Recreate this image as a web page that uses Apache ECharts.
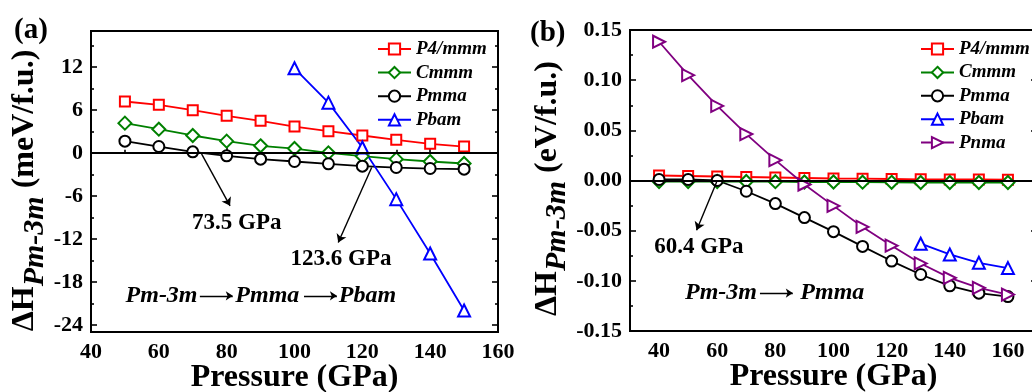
<!DOCTYPE html>
<html>
<head>
<meta charset="utf-8">
<script src="https://cdn.jsdelivr.net/npm/echarts@6/dist/echarts.min.js"></script>
<style>html,body{margin:0;padding:0;background:#fff}#c{width:1032px;height:392px}</style>
</head>
<body>
<div id="c"></div>
<script>
// ---------- Panel (a) data (meV/f.u.) ----------
const aX = [50, 60, 70, 80, 90, 100, 110, 120, 130, 140, 150];
const aP4mmm = [7.16, 6.70, 5.95, 5.16, 4.47, 3.67, 3.02, 2.42, 1.81, 1.26, 0.88];
const aCmmm = [4.14, 3.30, 2.42, 1.63, 0.98, 0.60, 0.00, -0.47, -0.88, -1.21, -1.49];
const aPmma = [1.63, 0.88, 0.14, -0.42, -0.88, -1.21, -1.53, -1.86, -2.05, -2.19, -2.28];
const aPbamX = [100, 110, 120, 130, 140, 150];
const aPbam = [11.8, 7.0, 0.74, -6.46, -14.05, -22.0];
const aYLabels = [-24, -18, -12, -6, 0, 6, 12];
const aYMinor = [-21, -15, -9, -3, 3, 9, 15];

// ---------- Panel (b) data (eV/f.u.) ----------
const bX = [40, 50, 60, 70, 80, 90, 100, 110, 120, 130, 140, 150, 160];
const bP4mmm = [0.005, 0.0045, 0.004, 0.0035, 0.003, 0.0025, 0.002, 0.0018, 0.0015, 0.0012, 0.001, 0.001, 0.0008];
const bCmmm = [-0.001, -0.001, -0.001, -0.001, -0.0012, -0.0015, -0.0015, -0.0017, -0.0018, -0.002, -0.002, -0.002, -0.002];
const bPmma = [0.001, 0.001, 0.0, -0.0107, -0.023, -0.037, -0.051, -0.0657, -0.0803, -0.0937, -0.105, -0.1123, -0.1157];
const bPbamX = [130, 140, 150, 160];
const bPbam = [-0.063, -0.0737, -0.082, -0.0873];
const bPnma = [0.1383, 0.105, 0.0743, 0.0463, 0.0203, -0.004, -0.0253, -0.0463, -0.065, -0.0827, -0.097, -0.107, -0.1137];
const bXLabels = [40, 60, 80, 100, 120, 140, 160];
const bXMinor = [50, 70, 90, 110, 130, 150];
const bYLabels = [-0.15, -0.10, -0.05, 0, 0.05, 0.10, 0.15];
const bYMinor = [-0.125, -0.075, -0.025, 0.025, 0.075, 0.125];

const names = ['P4/mmm', 'Cmmm', 'Pmma', 'Pbam', 'Pnma'];
const FONT = 'Liberation Serif';

const pairs = (xs, ys) => xs.map((x, i) => [x, ys[i]]);

const styles = {
  'P4/mmm': { color: '#ff0000', symbol: 'emptyRect', size: 10, rot: 0 },
  'Cmmm': { color: '#008000', symbol: 'emptyDiamond', size: 13, rot: 0 },
  'Pmma': { color: '#000000', symbol: 'emptyCircle', size: 11, rot: 0 },
  'Pbam': { color: '#0000ff', symbol: 'emptyTriangle', size: 12, rot: 0 },
  'Pnma': { color: '#800080', symbol: 'emptyTriangle', size: 12, rot: -90 }
};

function mkSeries(name, data, xi, yi) {
  const s = styles[name];
  return {
    type: 'line', name: name, data: data, xAxisIndex: xi, yAxisIndex: yi, z: 3,
    symbol: s.symbol, symbolSize: s.size, symbolRotate: s.rot,
    itemStyle: { color: s.color, borderWidth: 1.6 },
    lineStyle: { color: s.color, width: 1.8 },
    showSymbol: true
  };
}

const tickStyle = { color: '#000', width: 1.6 };
const labelStyle = { color: '#000', fontFamily: FONT, fontWeight: 'bold', fontSize: 22 };

function yAxes(grid, min, max, labels, minor, fmt, name, gap, shift) {
  return [
    { type: 'value', gridIndex: grid, position: 'left', min: min, max: max,
      axisLine: { show: true, lineStyle: { color: '#000', width: 2 } },
      axisTick: { show: true, inside: true, length: 6, lineStyle: tickStyle, customValues: labels },
      axisLabel: { show: true, margin: 8, customValues: labels, formatter: fmt, ...labelStyle },
      splitLine: { show: false },
      name: name, nameLocation: 'middle', nameGap: gap, nameRotate: 90,
      nameTextStyle: {
        padding: [0, shift, 0, 0],
        rich: {
          d: { fontFamily: FONT, fontWeight: 'bold', fontSize: 32, color: '#000' },
          s: { fontFamily: FONT, fontWeight: 'bold', fontStyle: 'italic', fontSize: 30, color: '#000', padding: [20, 0, 0, 0] }
        }
      }
    },
    { type: 'value', gridIndex: grid, position: 'left', min: min, max: max,
      axisLine: { show: false }, axisLabel: { show: false }, splitLine: { show: false },
      axisTick: { show: true, inside: true, length: 3, lineStyle: tickStyle, customValues: minor } },
    { type: 'value', gridIndex: grid, position: 'right', min: min, max: max,
      axisLine: { show: true, lineStyle: { color: '#000', width: 2 } }, axisLabel: { show: false }, splitLine: { show: false },
      axisTick: { show: true, inside: true, length: 6, lineStyle: tickStyle, customValues: labels } },
    { type: 'value', gridIndex: grid, position: 'right', min: min, max: max,
      axisLine: { show: false }, axisLabel: { show: false }, splitLine: { show: false },
      axisTick: { show: true, inside: true, length: 3, lineStyle: tickStyle, customValues: minor } }
  ];
}

const xName = 'Pressure (GPa)';
const xNameStyle = { fontFamily: FONT, fontWeight: 'bold', fontSize: 32, color: '#000' };

const txt = (name, coord, italic) => ({
  name: name, coord: coord, symbol: 'circle', symbolSize: 0,
  label: { show: true, position: 'inside', formatter: '{b}', color: '#000', fontFamily: FONT,
    fontWeight: 'bold', fontStyle: italic ? 'italic' : 'normal', fontSize: italic ? 24 : 23 }
});
const arrow = (p0, p1, size) => [
  { coord: p0, symbol: 'none' },
  { coord: p1, symbol: 'arrow', symbolSize: size, lineStyle: { width: 1.4, color: '#000' } }
];

const option = {
  animation: false,
  backgroundColor: '#fff',
  textStyle: { fontFamily: FONT },
  title: [
    { text: '(a)', left: 9, top: 11, textStyle: { fontFamily: FONT, fontWeight: 'bold', fontSize: 29, color: '#000' } },
    { text: '(b)', left: 525, top: 14, textStyle: { fontFamily: FONT, fontWeight: 'bold', fontSize: 29, color: '#000' } }
  ],
  grid: [
    { left: 91, top: 31, width: 407, height: 301, show: true, borderColor: '#000', borderWidth: 2,
      backgroundColor: 'transparent', outerBoundsMode: 'none', containLabel: false },
    { left: 630, top: 30, width: 407, height: 301, show: true, borderColor: '#000', borderWidth: 2,
      backgroundColor: 'transparent', outerBoundsMode: 'none', containLabel: false }
  ],
  legend: [
    { data: names.slice(0, 4), orient: 'vertical', left: 377, top: 39, itemWidth: 33, itemHeight: 14, itemGap: 3.6,
      padding: 0, textStyle: { fontFamily: FONT, fontWeight: 'bold', fontStyle: 'italic', fontSize: 19, color: '#000', lineHeight: 20 } },
    { data: names, orient: 'vertical', left: 920, top: 39, itemWidth: 33, itemHeight: 14, itemGap: 3.4,
      padding: 0, textStyle: { fontFamily: FONT, fontWeight: 'bold', fontStyle: 'italic', fontSize: 19, color: '#000', lineHeight: 20 } }
  ],
  xAxis: [
    { type: 'value', gridIndex: 0, position: 'bottom', min: 40, max: 160, interval: 20,
      axisLine: { show: true, lineStyle: { color: '#000', width: 2 } },
      axisTick: { show: true, inside: true, length: 6, lineStyle: tickStyle },
      minorTick: { show: true, splitNumber: 2, length: 3, lineStyle: tickStyle },
      axisLabel: { margin: 9, ...labelStyle }, splitLine: { show: false },
      name: xName, nameLocation: 'middle', nameGap: 30, nameMoveOverlap: false, nameTextStyle: xNameStyle },
    { type: 'value', gridIndex: 1, position: 'bottom', min: 30, max: 170,
      axisLine: { show: true, lineStyle: { color: '#000', width: 2 } },
      axisTick: { show: true, inside: true, length: 6, lineStyle: tickStyle, customValues: bXLabels },
      axisLabel: { margin: 9, customValues: bXLabels, ...labelStyle }, splitLine: { show: false },
      name: xName, nameLocation: 'middle', nameGap: 30, nameMoveOverlap: false, nameTextStyle: xNameStyle },
    { type: 'value', gridIndex: 1, position: 'bottom', min: 30, max: 170,
      axisLine: { show: false }, axisLabel: { show: false }, splitLine: { show: false },
      axisTick: { show: true, inside: true, length: 3, lineStyle: tickStyle, customValues: bXMinor } }
  ],
  yAxis: [
    ...yAxes(0, -25, 17, aYLabels, aYMinor, v => String(v), '{d|ΔH}{s|Pm-3m}{d| (meV/f.u.)}', 40, 18),
    ...yAxes(1, -0.15, 0.15, bYLabels, bYMinor, v => v.toFixed(2), '{d|ΔH}{s|Pm-3m}{d| (eV/f.u.)}', 57, 16)
  ],
  series: [
    { type: 'line', name: '_annA', xAxisIndex: 0, yAxisIndex: 0, data: [], z: 1, silent: true,
      markLine: { silent: true, symbol: ['none', 'none'], label: { show: false },
        lineStyle: { color: '#000', type: 'solid', width: 2 },
        data: [
          { yAxis: 0 },
          arrow([72.6, -0.14], [81.0, -7.4], 8),
          arrow([122.75, -2.05], [112.9, -12.5], 8),
          arrow([72.1, -19.95], [81.8, -19.95], 7),
          arrow([102.8, -19.95], [112.5, -19.95], 7)
        ] },
      markPoint: { silent: true, data: [
        txt('73.5 GPa', [83.0, -9.8], false),
        txt('123.6 GPa', [113.7, -14.8], false),
        txt('Pm-3m', [60.8, -19.95], true),
        txt('Pmma', [92.0, -19.95], true),
        txt('Pbam', [121.5, -19.95], true)
      ] } },
    mkSeries('P4/mmm', pairs(aX, aP4mmm), 0, 0),
    mkSeries('Cmmm', pairs(aX, aCmmm), 0, 0),
    mkSeries('Pmma', pairs(aX, aPmma), 0, 0),
    mkSeries('Pbam', pairs(aPbamX, aPbam), 0, 0),

    { type: 'line', name: '_annB', xAxisIndex: 1, yAxisIndex: 4, data: [], z: 1, silent: true,
      markLine: { silent: true, symbol: ['none', 'none'], label: { show: false },
        lineStyle: { color: '#000', type: 'solid', width: 2 },
        data: [
          { yAxis: 0 },
          arrow([59.8, -0.0014], [52.9, -0.0495], 8),
          arrow([74.7, -0.1122], [86.0, -0.1122], 7)
        ] },
      markPoint: { silent: true, data: [
        txt('60.4 GPa', [53.7, -0.0664], false),
        txt('Pm-3m', [61.3, -0.1122], true),
        txt('Pmma', [99.6, -0.1122], true)
      ] } },
    mkSeries('P4/mmm', pairs(bX, bP4mmm), 1, 4),
    mkSeries('Cmmm', pairs(bX, bCmmm), 1, 4),
    mkSeries('Pmma', pairs(bX, bPmma), 1, 4),
    mkSeries('Pbam', pairs(bPbamX, bPbam), 1, 4),
    mkSeries('Pnma', pairs(bX, bPnma), 1, 4)
  ]
};

const chart = echarts.init(document.getElementById('c'), null, { renderer: 'canvas' });
chart.setOption(option);
</script>
</body>
</html>
